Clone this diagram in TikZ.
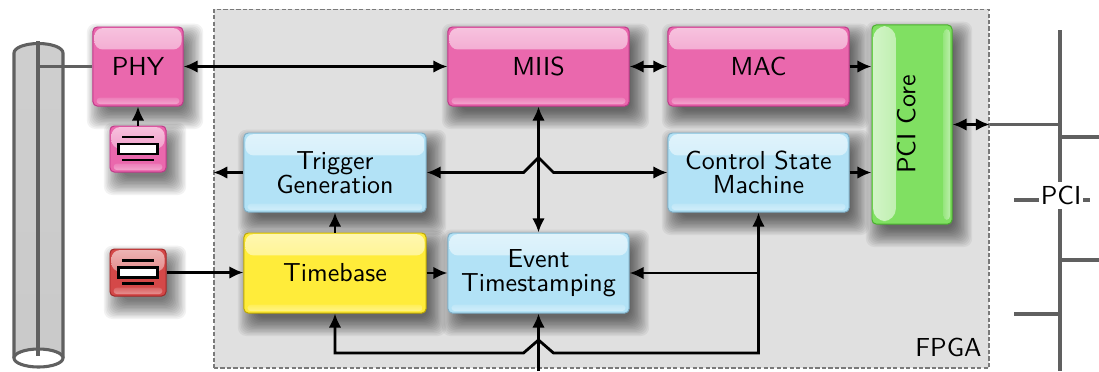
\documentclass[tikz,border=0pt]{standalone}
\usepackage{fontspec}
\setsansfont{lmsans10-regular.otf}
\usetikzlibrary{arrows.meta,calc}

\definecolor{pinkbase}{HTML}{EA68AD}
\definecolor{pinkedge}{HTML}{C2378A}
\definecolor{bluebase}{HTML}{B2E2F6}
\definecolor{blueedge}{HTML}{7FAFC8}
\definecolor{yellowbase}{HTML}{FFEC3A}
\definecolor{yellowedge}{HTML}{BFA800}
\definecolor{greenbase}{HTML}{80E062}
\definecolor{greenedge}{HTML}{48B02C}
\definecolor{redbase}{HTML}{D44848}
\definecolor{rededge}{HTML}{A02828}
\definecolor{fpgafill}{HTML}{E0E0E0}
\definecolor{fpgaedge}{HTML}{7A7A7A}
\definecolor{wire}{HTML}{606060}

\pgfdeclarelayer{back}
\pgfdeclarelayer{shadowlayer}
\pgfsetlayers{back,shadowlayer,main}

\tikzset{
  labelfont/.style={font=\sffamily\fontsize{18.5}{17.2}\selectfont, align=center},
  glossbox/.style 2 args={draw=#2, line width=0.7pt, rounded corners=3pt,
    fill=#1, labelfont, inner sep=0pt,
    path picture={
      \shade[top color=#1!40!white, bottom color=#1!88!white, rounded corners=6pt]
        ([xshift=1pt,yshift=-0.8pt]path picture bounding box.north west) rectangle
        ([xshift=-1pt,yshift=-16pt]path picture bounding box.north east);
      \shade[top color=#1!85!white, bottom color=#1!60!white, rounded corners=2.5pt]
        ([xshift=2.5pt,yshift=1.3pt]path picture bounding box.south west) rectangle
        ([xshift=-2.5pt,yshift=6pt]path picture bounding box.south east);
    }},
  sidegloss/.style 2 args={draw=#2, line width=0.7pt, rounded corners=3pt,
    fill=#1, inner sep=0pt,
    path picture={
      \shade[left color=#1!35!white, right color=#1!85!white, rounded corners=9pt]
        ([xshift=0.8pt,yshift=-0.8pt]path picture bounding box.north west) rectangle
        ([xshift=17pt,yshift=2pt]path picture bounding box.south west);
      \shade[left color=#1!80!white, right color=#1!55!white, rounded corners=2.5pt]
        ([xshift=-6pt,yshift=-3pt]path picture bounding box.north east) rectangle
        ([xshift=-1.5pt,yshift=3pt]path picture bounding box.south east);
    }},
  conn/.style={line width=2pt, black},
  wireline/.style={draw=wire, line width=2.2pt},
  xtal/.style={line width=1.8pt, black},
  >={Latex[length=10pt,width=9pt]},
}

% soft drop shadow: stacked translucent rounded rectangles behind a block
\newcommand\softshadow[1]{%
  \begin{pgfonlayer}{shadowlayer}
    \foreach \g in {-4,-3,...,9}{
      \fill[black, opacity=0.05, rounded corners=6pt]
        ([shift={(5pt-\g pt,-7pt-\g pt)}]#1.south west) rectangle
        ([shift={(5pt+\g pt,-7pt+\g pt)}]#1.north east);
    }
  \end{pgfonlayer}}

% quartz crystal symbol inside an oscillator box
\newcommand\crystalsym[1]{%
  \draw[xtal] ([shift={(-16,-12)}]#1.center) -- ([shift={(16,-12)}]#1.center);
  \draw[xtal] ([shift={(-16,11)}]#1.center) -- ([shift={(16,11)}]#1.center);
  \draw[xtal, fill=white] ([shift={(-19.5,-5)}]#1.center) rectangle ([shift={(19.5,5)}]#1.center);
}

\begin{document}
\begin{tikzpicture}[x=0.025cm, y=-0.025cm]
\useasboundingbox (0,0) rectangle (1099,371);

% FPGA area
\begin{pgfonlayer}{back}
\node[draw=fpgaedge, dash pattern=on 3pt off 1.6pt, line width=1pt, fill=fpgafill,
      minimum width=19.375cm, minimum height=8.9625cm, inner sep=0pt] (fpga) at (601.5,188.75) {};
\end{pgfonlayer}
\node[labelfont, anchor=base east, inner sep=0pt] (fpgalabel) at ([shift={(-8,-12)}]fpga.south east) {FPGA};

% coaxial cable
\shade[top color=gray!38, middle color=gray!10, bottom color=gray!42]
  (14,358) -- (14,53) arc[start angle=180, end angle=360, x radius=24.5, y radius=9.5] -- (63,358) -- cycle;
\draw[wireline] (14,358) -- (14,53) arc[start angle=180, end angle=360, x radius=24.5, y radius=9.5] -- (63,358);
\draw[wireline, fill=white] (38.5,358) ellipse[x radius=24.5, y radius=9];
\coordinate (cabtop) at (38,41);
\coordinate (cabbot) at (38,356);
\draw[wireline] (cabtop) -- (cabbot);

% blocks
\node[glossbox={pinkbase}{pinkedge}, minimum width=2.25cm, minimum height=1.975cm] (phy) at (138,66.5) {PHY};
\node[glossbox={pinkbase}{pinkedge}, minimum width=1.4cm, minimum height=1.15cm] (xo1) at (138,149) {};
\node[glossbox={redbase}{rededge}, minimum width=1.4cm, minimum height=1.175cm] (xo2) at (138,272.5) {};
\crystalsym{xo1}
\crystalsym{xo2}

\node[glossbox={pinkbase}{pinkedge}, minimum width=4.525cm, minimum height=1.975cm] (miis) at (538.5,66.5) {MIIS};
\node[glossbox={pinkbase}{pinkedge}, minimum width=4.525cm, minimum height=1.975cm] (mac) at (758.5,66.5) {MAC};
\node[glossbox={bluebase}{blueedge}, minimum width=4.55cm, minimum height=1.975cm] (trig) at (335,172.5) {Trigger\\Generation};
\node[glossbox={bluebase}{blueedge}, minimum width=4.525cm, minimum height=1.975cm] (csm) at (758.5,172.5) {Control State\\Machine};
\node[glossbox={yellowbase}{yellowedge}, minimum width=4.55cm, minimum height=2cm] (tb) at (335,273) {Timebase};
\node[glossbox={bluebase}{blueedge}, minimum width=4.525cm, minimum height=2cm] (evt) at (538.5,273) {Event\\Timestamping};
\node[sidegloss={greenbase}{greenedge}, minimum width=2cm, minimum height=4.975cm] (pci) at (912,124.5) {};
\node[labelfont, rotate=90, inner sep=0pt] (pcitext) at ([xshift=-4]pci.center) {PCI Core};

\softshadow{phy}
\softshadow{xo1}
\softshadow{xo2}
\softshadow{miis}
\softshadow{mac}
\softshadow{trig}
\softshadow{csm}
\softshadow{tb}
\softshadow{evt}
\softshadow{pci}

% PCI bus
\coordinate (bustop) at (1060,30);
\coordinate (busbot) at (1060,371);
\draw[wireline] (bustop) -- (busbot);
\draw[wireline] (1060,137) -- (1099,137);
\draw[wireline] (1014,200) -- (1090,200);
\draw[wireline] (1060,260) -- (1099,260);
\draw[wireline] (1014,314) -- (1060,314);
\node[labelfont, fill=white, inner xsep=1pt, inner ysep=3pt] (pcibus) at (1061,195.5) {PCI};

% cable to PHY
\draw[wireline] (cabtop |- phy.west) -- (phy.west);

% connectors
\draw[conn, ->] (xo1.north) -- (phy.south);
\draw[conn, <->] (phy.east) -- (miis.west);
\draw[conn, <->] (miis.east) -- (mac.west);
\draw[conn, ->] (mac.east) -- (mac.east -| pci.west);
\draw[conn, ->] (csm.east) -- (csm.east -| pci.west);
\draw[conn, <->] (pci.east) -- (pci.east -| fpga.east);
\draw[wireline] (pci.east -| fpga.east) -- (pci.east -| bustop);

\draw[conn, ->] (trig.west) -- (trig.west -| fpga.west);
\coordinate (hopa) at (miis.south |- trig.east);
\draw[conn, <->] (trig.east) -- ([shift={(-15,0)}]hopa) -- ([shift={(0,-15)}]hopa)
  -- ([shift={(15,0)}]hopa) -- (csm.west);
\draw[conn, <->] (miis.south) -- (evt.north);

\draw[conn, ->] (xo2.east) -- (xo2.east -| tb.west);
\draw[conn, ->] (tb.north) -- (trig.south);
\draw[conn, ->] (tb.east) -- (evt.west);

\coordinate (busy) at (0,353);
\coordinate (hopb) at (evt.south |- busy);
\draw[conn, <->] (tb.south) -- (tb.south |- busy) -- ([shift={(-15,0)}]hopb)
  -- ([shift={(0,-13)}]hopb) -- ([shift={(15,0)}]hopb) -- (csm.south |- busy) -- (csm.south);
\draw[conn, ->] (csm.south |- evt.east) -- (evt.east);
\coordinate (extin) at (538.5,371);
\draw[conn, ->] (extin) -- (evt.south);
\end{tikzpicture}
\end{document}
